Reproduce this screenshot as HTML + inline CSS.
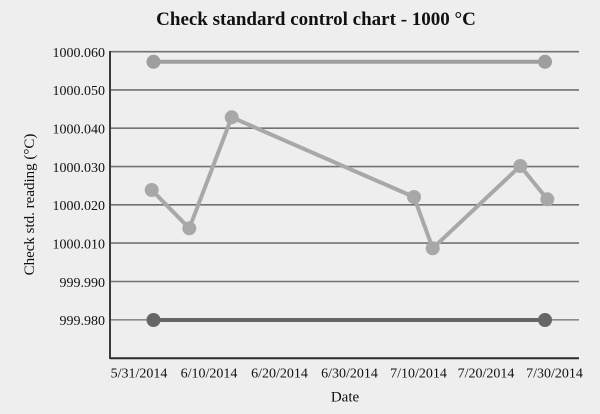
<!DOCTYPE html>
<html>
<head>
<meta charset="utf-8">
<style>
html,body{margin:0;padding:0;background:#eeeeee;}
svg{display:block;}
text{font-family:"Liberation Serif","DejaVu Serif",serif;fill:#111;}
</style>
</head>
<body>
<svg width="600" height="414" viewBox="0 0 600 414" xmlns="http://www.w3.org/2000/svg">
<rect x="0" y="0" width="600" height="414" fill="#eeeeee"/>
<text x="316" y="25" font-size="19" font-weight="bold" text-anchor="middle">Check standard control chart - 1000 °C</text>

<g stroke="#727272" stroke-width="1.6">
<line x1="110" y1="51.7" x2="579" y2="51.7"/>
<line x1="110" y1="89.9" x2="579" y2="89.9"/>
<line x1="110" y1="128.2" x2="579" y2="128.2"/>
<line x1="110" y1="166.6" x2="579" y2="166.6"/>
<line x1="110" y1="204.8" x2="579" y2="204.8"/>
<line x1="110" y1="243.1" x2="579" y2="243.1"/>
<line x1="110" y1="281.5" x2="579" y2="281.5"/>
<line x1="110" y1="319.8" x2="579" y2="319.8" stroke="#8a8a8a"/>
</g>
<line x1="110" y1="358.2" x2="579" y2="358.2" stroke="#2a2a2a" stroke-width="2"/>
<line x1="110" y1="51" x2="110" y2="359" stroke="#3a3a3a" stroke-width="2"/>

<g font-size="14" text-anchor="end">
<text x="105" y="57">1000.060</text>
<text x="105" y="95.2">1000.050</text>
<text x="105" y="133.5">1000.040</text>
<text x="105" y="171.9">1000.030</text>
<text x="105" y="210.1">1000.020</text>
<text x="105" y="248.4">1000.010</text>
<text x="105" y="286.8">999.990</text>
<text x="105" y="325.1">999.980</text>
</g>

<g font-size="14" text-anchor="middle">
<text x="139" y="377.5">5/31/2014</text>
<text x="209" y="377.5">6/10/2014</text>
<text x="279.5" y="377.5">6/20/2014</text>
<text x="349.5" y="377.5">6/30/2014</text>
<text x="418.5" y="377.5">7/10/2014</text>
<text x="486" y="377.5">7/20/2014</text>
<text x="554.5" y="377.5">7/30/2014</text>
</g>
<text x="345" y="401.5" font-size="15" text-anchor="middle">Date</text>
<text transform="translate(34,204.5) rotate(-90)" font-size="15" text-anchor="middle">Check std. reading (°C)</text>

<!-- upper limit -->
<line x1="153.5" y1="61.8" x2="545" y2="61.8" stroke="#9e9e9e" stroke-width="4"/>
<circle cx="153.5" cy="61.8" r="7" fill="#9e9e9e"/>
<circle cx="545" cy="61.8" r="7" fill="#9e9e9e"/>

<!-- lower limit -->
<line x1="153.5" y1="320" x2="545" y2="320" stroke="#666666" stroke-width="4"/>
<circle cx="153.5" cy="320" r="7" fill="#666666"/>
<circle cx="545" cy="320" r="7" fill="#666666"/>

<!-- data -->
<polyline points="151.7,190 189.3,228.3 231.7,117.3 414,197 432.7,248.3 520.3,166 547.3,199.3" fill="none" stroke="#a8a8a8" stroke-width="4" stroke-linejoin="round"/>
<g fill="#a8a8a8">
<circle cx="151.7" cy="190" r="7"/>
<circle cx="189.3" cy="228.3" r="7"/>
<circle cx="231.7" cy="117.3" r="7"/>
<circle cx="414" cy="197" r="7"/>
<circle cx="432.7" cy="248.3" r="7"/>
<circle cx="520.3" cy="166" r="7"/>
<circle cx="547.3" cy="199.3" r="7"/>
</g>
</svg>
</body>
</html>
